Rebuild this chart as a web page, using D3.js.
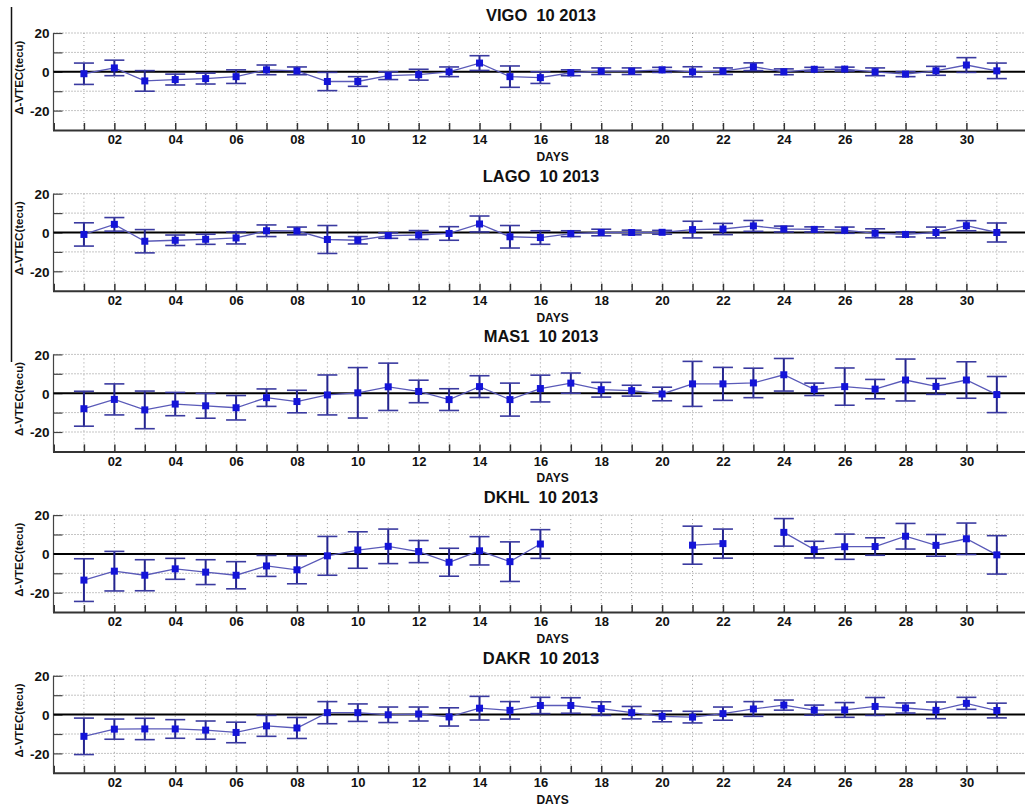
<!DOCTYPE html>
<html>
<head>
<meta charset="utf-8">
<title>VTEC 10 2013</title>
<script src="https://d3js.org/d3.v7.min.js"></script>
<style>
  body { margin: 0; background: #fff; }
  svg text { font-family: "Liberation Sans", Arial, sans-serif; font-weight: bold; fill: #111; }
  .title { white-space: pre; }
</style>
</head>
<body>
<svg width="1025" height="807"></svg>
<script>
// ---- data ----
var days = d3.range(1, 32);
var dayLabels = ["02","04","06","08","10","12","14","16","18","20","22","24","26","28","30"];
var yTicks = [-20, -10, 0, 10, 20];
var yLabels = ["-20", "", "0", "", "20"];
var stations = ["VIGO", "LAGO", "MAS1", "DKHL", "DAKR"];

var vigoMean = [-1, 2, -4.7, -4, -3.5, -2.5, 1, 0.5, -5, -5, -2, -1.5, 0, 4.5, -2.5,
                -3, -0.5, 0.3, 0.3, 1, 0, 0.3, 2.6, 0, 1.3, 1.4, 0, -1.2, 0.5, 3.5, 0.5];
var vigoErr  = [5.5, 4, 5.3, 2.8, 2.8, 3.5, 2.5, 2, 4.7, 2.5, 2, 2.8, 2.5, 3.8, 5.5,
                3, 1.5, 1.7, 1.7, 1.3, 2.6, 1.7, 2, 1.5, 1, 1, 2, 1.3, 2.3, 3.8, 4];

var lagoMean = [-1, 4.2, -4.5, -4, -3.5, -2.8, 0.9, 0.8, -3.6, -4, -1.6, -1.3, -0.5, 4.4, -2.2,
                -2.6, -0.6, 0, 0, 0.1, 1.5, 1.8, 3.4, 1.8, 1.6, 1.2, -0.4, -1, 0, 3.5, 0];
var lagoErr  = [6, 3.5, 6, 2.7, 2.6, 3.1, 3, 2, 7.2, 1.9, 1.4, 2.3, 3.5, 4.1, 5.8,
                3.5, 1.5, 1.7, 1.2, 1, 4.3, 2.9, 2.8, 1.5, 1.3, 1.6, 2.3, 1.3, 2.8, 2.6, 4.9];

var mas1Mean = [-8, -3.2, -8.6, -5.6, -6.5, -7.5, -2.3, -4.3, -0.9, 0.2, 3.3, 0.9, -3.3, 3.4, -3.3,
                2.4, 5.2, 1.8, 1.3, -0.4, 4.8, 4.8, 5.3, 9.5, 2, 3.4, 2.1, 6.8, 3.5, 6.8, -0.7];
var mas1Err  = [9, 8, 9.7, 6, 6.4, 6.3, 4.5, 5.8, 10.3, 13, 12.2, 5.8, 5.6, 5.6, 8.5,
                6.9, 5.2, 3.8, 2.8, 3.5, 11.6, 8.5, 7.6, 8.4, 3.2, 9.6, 5, 10.8, 4.1, 9.4, 9.3];

var dkhlMean = [-13.5, -8.9, -11, -7.7, -9.4, -11, -6.2, -8.2, -1, 2, 3.9, 1.2, -4.3, 1.6, -4,
                5.1, null, null, null, null, 4.5, 5.3, null, 11.1, 2.2, 3.7, 3.8, 9.1, 4.4, 7.8, -0.5];
var dkhlErr  = [11, 10.2, 8, 5.4, 6.4, 7, 5.4, 7.2, 10, 9.4, 8.9, 5.7, 7.2, 7.3, 10.2,
                7.4, null, null, null, null, 9.8, 7.5, null, 7.1, 4.3, 6.5, 4.5, 6.6, 5.6, 8.1, 9.9];

var dakrMean = [-11.2, -7.5, -7.4, -7.4, -8, -9.2, -5.8, -6.9, 1, 1, -0.1, 0.3, -1.2, 3.3, 2.2,
                4.7, 4.7, 3.1, 1, -0.9, -1.3, 0.5, 2.9, 4.9, 2.3, 2.4, 4.2, 3.4, 2.2, 5.8, 2.1];
var dakrErr  = [9.4, 5.2, 5.5, 4.8, 4.7, 5.3, 5.4, 5.4, 5.7, 4.5, 4, 3.6, 4.7, 6.1, 4.5,
                4.2, 4, 3.5, 3.2, 2.8, 3, 3.4, 3.8, 2.6, 2.6, 3.8, 4.6, 2.6, 4.3, 3.1, 3.8];

var means = [vigoMean, lagoMean, mas1Mean, dkhlMean, dakrMean];
var errs  = [vigoErr, lagoErr, mas1Err, dkhlErr, dakrErr];

// ---- layout ----
var svg = d3.select("svg");
var panelStep = 160.7;

var x = d3.scaleLinear().domain([0, 32]).range([53.5, 53.5 + 32 * 30.43]);

// odd artefact line at far left of the figure
svg.append("line")
    .attr("x1", 11.5).attr("x2", 11.5)
    .attr("y1", 7).attr("y2", 362)
    .attr("stroke", "#111").attr("stroke-width", 1.5);

stations.forEach(function (name, i) {
    var top = i * panelStep;
    var y = d3.scaleLinear().domain([-30, 20]).range([top + 130, top + 33]);
    var g = svg.append("g").attr("class", "panel");

    // title
    g.append("text")
        .attr("class", "title")
        .attr("x", 541).attr("y", top + 21)
        .attr("text-anchor", "middle")
        .attr("font-size", 16.5)
        .text(name + "  10 2013");

    // grid
    g.selectAll(".hgrid")
        .data(yTicks.filter(function (t) { return t !== 0; }))
        .enter().append("line")
        .attr("x1", x(0)).attr("x2", 1025)
        .attr("y1", function (d) { return y(d); })
        .attr("y2", function (d) { return y(d); })
        .attr("stroke", "#8a8a8a").attr("stroke-width", 1)
        .attr("stroke-dasharray", "1,2");

    g.selectAll(".vgrid")
        .data(days)
        .enter().append("line")
        .attr("x1", function (d) { return x(d); })
        .attr("x2", function (d) { return x(d); })
        .attr("y1", y(20)).attr("y2", y(-30))
        .attr("stroke", "#9a9a9a").attr("stroke-width", 1)
        .attr("stroke-dasharray", "1,3");

    // x axis
    var xAxis = d3.axisBottom(x)
        .tickValues(days)
        .tickSize(-7)
        .tickPadding(5)
        .tickFormat(function (d) { return d % 2 === 0 ? dayLabels[d / 2 - 1] : ""; });
    var xg = g.append("g")
        .attr("transform", "translate(0," + y(-30) + ")")
        .call(xAxis);
    xg.select(".domain").attr("stroke", "#333").attr("stroke-width", 2);
    xg.selectAll(".tick line").attr("stroke", "#333").attr("stroke-width", 1.5);
    xg.selectAll(".tick text").attr("font-size", 13).attr("font-family", null);

    // y axis
    var yAxis = d3.axisLeft(y)
        .tickValues(yTicks)
        .tickSize(-9)
        .tickPadding(4)
        .tickFormat(function (d, k) { return yLabels[k]; });
    var yg = g.append("g")
        .attr("transform", "translate(" + x(0) + ",0)")
        .call(yAxis);
    yg.select(".domain").attr("d", "M0," + y(20) + "V" + y(-30)).attr("stroke", "#444").attr("stroke-width", 1.2);
    yg.selectAll(".tick line").attr("stroke", "#444").attr("stroke-width", 1.2);
    yg.selectAll(".tick text").attr("font-size", 13.5).attr("font-family", null).attr("dy", "0.36em");

    // zero line
    g.append("line")
        .attr("x1", x(0)).attr("x2", 1025)
        .attr("y1", y(0)).attr("y2", y(0))
        .attr("stroke", "#000").attr("stroke-width", 2);

    // axis labels
    g.append("text")
        .attr("transform", "translate(23," + y(-3) + ") rotate(-90)")
        .attr("text-anchor", "middle")
        .attr("font-size", 11.5)
        .text("\u0394-VTEC(tecu)");

    g.append("text")
        .attr("x", x(16.4)).attr("y", top + 161)
        .attr("text-anchor", "middle")
        .attr("font-size", 12)
        .text("DAYS");

    // series
    var pts = days.map(function (d, k) {
        return { day: d, v: means[i][k], e: errs[i][k] };
    });
    var valid = pts.filter(function (p) { return p.v !== null; });

    var line = d3.line()
        .defined(function (p) { return p.v !== null; })
        .x(function (p) { return x(p.day); })
        .y(function (p) { return y(p.v); });

    g.append("path")
        .datum(pts)
        .attr("d", line)
        .attr("fill", "none")
        .attr("stroke", "#5a5ab8")
        .attr("stroke-width", 1.3);

    var capW = 10;
    var eb = g.selectAll(".eb").data(valid).enter().append("g");
    eb.append("line")
        .attr("x1", function (p) { return x(p.day); })
        .attr("x2", function (p) { return x(p.day); })
        .attr("y1", function (p) { return y(p.v + p.e); })
        .attr("y2", function (p) { return y(p.v - p.e); })
        .attr("stroke", "#24248f").attr("stroke-width", 2);
    eb.append("line")
        .attr("x1", function (p) { return x(p.day) - capW; })
        .attr("x2", function (p) { return x(p.day) + capW; })
        .attr("y1", function (p) { return y(p.v + p.e); })
        .attr("y2", function (p) { return y(p.v + p.e); })
        .attr("stroke", "#3a3aa0").attr("stroke-width", 1.6);
    eb.append("line")
        .attr("x1", function (p) { return x(p.day) - capW; })
        .attr("x2", function (p) { return x(p.day) + capW; })
        .attr("y1", function (p) { return y(p.v - p.e); })
        .attr("y2", function (p) { return y(p.v - p.e); })
        .attr("stroke", "#3a3aa0").attr("stroke-width", 1.6);
    eb.append("rect")
        .attr("x", function (p) { return x(p.day) - 3.5; })
        .attr("y", function (p) { return y(p.v) - 3.5; })
        .attr("width", 7).attr("height", 7)
        .attr("fill", "#1414d8");
});
</script>
</body>
</html>
